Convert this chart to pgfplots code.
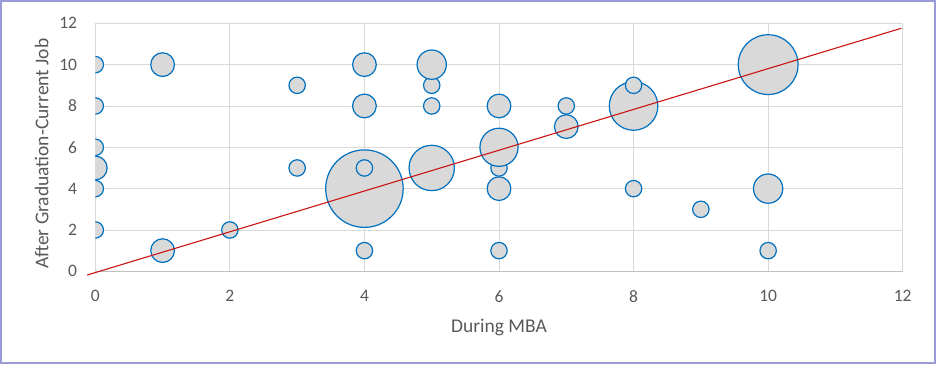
\documentclass[border=0pt]{standalone}
\usepackage{fontspec}
\setmainfont{Carlito}
\usepackage{pgfplots}
\usepackage{pgfplotstable}
\pgfplotsset{compat=1.18}
\definecolor{framecol}{RGB}{155,155,215}
\definecolor{gridgray}{RGB}{217,217,217}
\definecolor{axisgray}{RGB}{191,191,191}
\definecolor{labgray}{RGB}{89,89,89}
\definecolor{bubfill}{RGB}{217,217,217}
\definecolor{bubedge}{RGB}{0,112,192}
\definecolor{trendred}{RGB}{200,20,20}
\pgfplotstableread{
x y s
4 4 20
10 10 12
8 8 8
5 5 7
0 10 1
0 8 1
0 6 1
0 4 1
0 2 1
0 5 2
1 10 2
1 1 2
2 2 1
3 9 1
3 5 1
4 10 2
4 8 2
4 5 1
4 1 1
5 9 1
5 10 3
5 8 1
6 8 2
6 5 1
6 6 5
6 4 2
6 1 1
7 8 1
7 7 2
8 9 1
8 4 1
9 3 1
10 4 3
10 1 1
}\bubbles
\pgfplotstableread{
x y
-0.12 -0.18
11.98 11.76
}\trend
\begin{document}
\begin{tikzpicture}
\useasboundingbox (-95.3pt,-92.7pt) rectangle (840.7pt,271.3pt);
\draw[framecol, line width=2.5pt] (-94.05pt,-91.45pt) rectangle (839.45pt,270.05pt);
\begin{axis}[
  scale only axis, width=807.4pt, height=248pt,
  xmin=0, xmax=12, ymin=0, ymax=12,
  xtick={0,2,...,12}, ytick={0,2,...,12},
  major tick length=0pt,
  grid=major,
  grid style={gridgray, line width=0.9pt},
  axis line style={gridgray, line width=0.9pt},
  clip marker paths=true,
  /pgf/number format/assume math mode=true,
  ticklabel style={font=\fontsize{17.5}{20}\selectfont, text=labgray, inner sep=0pt},
  xticklabel style={anchor=north, yshift=-18.7pt},
  yticklabel style={anchor=east, xshift=-18pt},
  xlabel={During MBA},
  ylabel={After Graduation-Current Job},
  label style={font=\fontsize{19.5}{22}\selectfont, text=labgray},
  xlabel style={at={(axis description cs:0.5,-0.246)}, anchor=base, inner sep=0pt},
  ylabel style={at={(axis description cs:-0.0664,0.474)}, anchor=center, inner sep=0pt},
]
\addplot[scatter, only marks, mark=*,
  scatter/use mapped color={draw=bubedge, fill=bubfill},
  mark options={line width=1.2pt},
  visualization depends on={8.8*sqrt(\thisrow{s})-0.6 \as \rad},
  scatter/@pre marker code/.append style={/tikz/mark size=\rad}]
  table[x=x, y=y] {\bubbles};
\draw[axisgray, line width=0.9pt] (rel axis cs:0,0) -- (rel axis cs:1,0);
\end{axis}
\begin{axis}[
  scale only axis, width=807.4pt, height=248pt,
  xmin=0, xmax=12, ymin=0, ymax=12,
  axis lines=none, ticks=none, clip=false,
]
\addplot[trendred, line width=1.1pt, no marks] table[x=x, y=y] {\trend};
\end{axis}
\end{tikzpicture}
\end{document}
